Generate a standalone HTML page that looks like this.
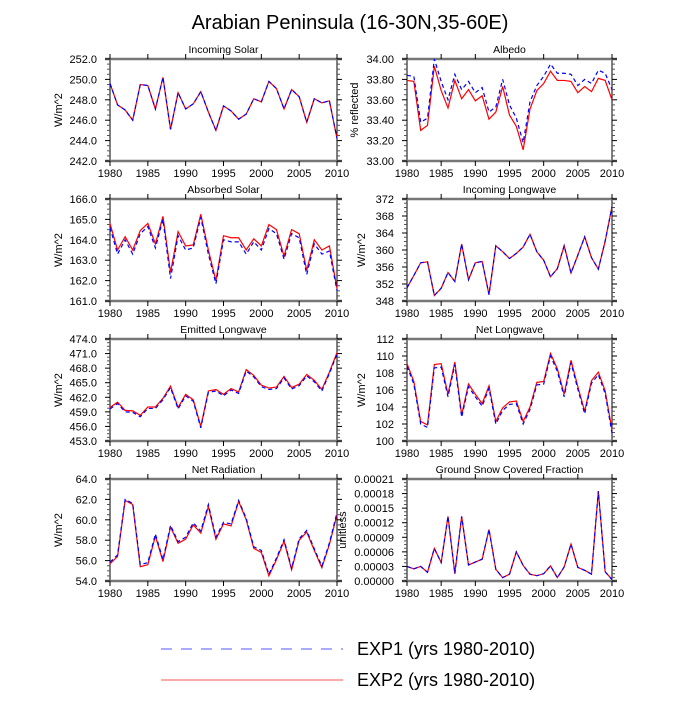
<!DOCTYPE html>
<html><head><meta charset="utf-8"><style>
body{margin:0;background:#fff}
svg text{font-family:"Liberation Sans",sans-serif;fill:#000}
</style></head><body>
<svg id="c" width="700" height="700" xmlns="http://www.w3.org/2000/svg">
<text x="350" y="29" font-size="20" text-anchor="middle">Arabian Peninsula (16-30N,35-60E)</text>
<g>
<line x1="161" y1="649" x2="343" y2="649" stroke="#7777ff" stroke-width="1.2" stroke-dasharray="11,9"/>
<text x="357" y="655" font-size="18">EXP1 (yrs 1980-2010)</text>
<line x1="161" y1="680" x2="343" y2="680" stroke="#ff7777" stroke-width="1.2"/>
<text x="357" y="686" font-size="18">EXP2 (yrs 1980-2010)</text>
</g>
</svg>
<script>
const years=[1980,1981,1982,1983,1984,1985,1986,1987,1988,1989,1990,1991,1992,1993,1994,1995,1996,1997,1998,1999,2000,2001,2002,2003,2004,2005,2006,2007,2008,2009,2010];
const xTicks=[1980,1985,1990,1995,2000,2005,2010];
const solarRed=[249.6,247.5,247.0,246.0,249.5,249.4,247.1,250.2,245.1,248.7,247.1,247.6,248.8,246.8,245.0,247.4,246.9,246.1,246.6,248.1,247.8,249.8,249.1,247.1,249.0,248.3,245.8,248.1,247.7,247.9,244.2];
const solarBlue=[249.6,247.5,247.0,246.0,249.5,249.4,247.1,250.2,245.1,248.7,247.1,247.6,248.8,246.8,245.0,247.4,246.9,246.1,246.6,248.1,247.8,249.8,249.1,247.1,249.0,248.3,245.8,248.1,247.7,247.9,244.2];
const albedoRed=[33.79,33.78,33.30,33.35,33.93,33.69,33.52,33.79,33.61,33.70,33.59,33.64,33.41,33.48,33.73,33.45,33.34,33.11,33.51,33.69,33.76,33.88,33.79,33.79,33.78,33.67,33.73,33.68,33.81,33.79,33.60];
const albedoBlue=[33.84,33.83,33.38,33.42,34.00,33.78,33.60,33.85,33.70,33.78,33.67,33.72,33.48,33.53,33.80,33.55,33.42,33.18,33.58,33.74,33.83,33.95,33.86,33.86,33.85,33.74,33.80,33.76,33.89,33.86,33.70];
const absRed=[164.8,163.5,164.15,163.5,164.45,164.8,163.8,165.15,162.4,164.4,163.7,163.75,165.25,163.5,162.0,164.2,164.1,164.1,163.5,164.05,163.7,164.75,164.5,163.2,164.5,164.3,162.5,164.0,163.5,163.7,161.6];
const absBlue=[164.6,163.3,164.0,163.3,164.3,164.65,163.6,165.0,162.1,164.2,163.5,163.6,165.1,163.3,161.85,164.0,163.9,163.9,163.3,163.9,163.5,164.55,164.3,163.05,164.3,164.1,162.3,163.8,163.3,163.45,161.5];
const ilwRed=[351.1,354.0,357.0,357.2,349.3,351.0,354.7,352.6,361.4,353.0,357.0,357.3,349.5,361.0,359.6,358.0,359.2,360.7,363.7,359.6,357.6,353.7,355.6,361.0,354.6,358.8,363.1,358.2,355.5,362.1,370.2];
const ilwBlue=[351.1,354.0,357.0,357.2,349.3,351.0,354.7,352.6,361.4,353.0,357.0,357.3,349.5,361.0,359.6,358.0,359.2,360.7,363.7,359.6,357.6,353.7,355.6,361.0,354.6,358.8,363.1,358.2,355.5,362.1,370.2];
const elwRed=[459.9,461.0,459.3,459.2,458.3,460.0,460.0,461.8,464.3,459.9,462.6,461.5,456.0,463.3,463.6,462.6,463.8,463.1,467.7,466.5,464.5,463.9,464.1,466.3,464.0,464.7,466.7,465.5,463.6,467.2,471.2];
const elwBlue=[459.6,460.7,459.0,458.9,458.0,459.7,459.7,461.5,464.0,459.6,462.3,461.2,455.7,463.0,463.3,462.3,463.5,462.8,467.4,466.2,464.2,463.6,463.8,466.0,463.7,464.4,466.4,465.2,463.3,466.9,470.9];
const nlwRed=[109.1,107.0,102.3,101.9,109.0,109.1,105.5,109.3,103.1,106.7,105.5,104.4,106.5,102.3,103.9,104.6,104.7,102.3,104.0,106.9,107.0,110.3,108.5,105.5,109.5,106.4,103.5,107.1,108.1,105.9,101.3];
const nlwBlue=[108.8,106.7,102.0,101.6,108.6,108.7,105.2,109.0,102.8,106.4,105.2,104.1,106.2,102.0,103.6,104.3,104.4,102.0,103.7,106.6,106.7,110.0,108.2,105.2,109.2,106.1,103.2,106.8,107.8,105.6,100.9];
const netRed=[55.7,56.4,61.9,61.5,55.4,55.6,58.4,55.9,59.3,57.7,58.1,59.5,58.7,61.3,58.1,59.6,59.4,61.8,60.0,57.2,56.8,54.5,56.1,57.9,55.1,58.0,58.8,57.0,55.3,57.6,60.5];
const netBlue=[55.85,56.55,62.0,61.6,55.6,55.8,58.6,56.1,59.45,57.85,58.3,59.7,58.9,61.5,58.3,59.75,59.6,61.9,60.15,57.35,57.0,54.65,56.25,58.05,55.25,58.15,58.95,57.15,55.45,57.75,60.7];
const snowRed=[3.0e-5,2.5e-5,3.0e-5,1.8e-5,6.7e-5,3.8e-5,13.3e-5,1.5e-5,13.3e-5,3.3e-5,3.9e-5,4.5e-5,10.6e-5,2.4e-5,0.7e-5,1.4e-5,6.0e-5,3.2e-5,1.4e-5,1.1e-5,1.5e-5,3.1e-5,0.7e-5,2.9e-5,7.6e-5,2.8e-5,2.2e-5,1.4e-5,18.5e-5,1.9e-5,0.3e-5];
const snowBlue=[3.0e-5,2.5e-5,3.0e-5,1.8e-5,6.7e-5,3.8e-5,13.3e-5,1.5e-5,13.3e-5,3.3e-5,3.9e-5,4.5e-5,10.6e-5,2.4e-5,0.7e-5,1.4e-5,6.0e-5,3.2e-5,1.4e-5,1.1e-5,1.5e-5,3.1e-5,0.7e-5,2.9e-5,7.6e-5,2.8e-5,2.2e-5,1.4e-5,18.5e-5,1.9e-5,0.3e-5];

const panels=[
 {name:'incoming-solar',title:'Incoming Solar',ylab:'W/m^2',col:0,row:0,min:242,max:252,step:2,dec:1,red:solarRed,blue:solarBlue,ylx:62},
 {name:'albedo',title:'Albedo',ylab:'% reflected',col:1,row:0,min:33,max:34,step:0.2,dec:2,red:albedoRed,blue:albedoBlue,ylx:358},
 {name:'absorbed-solar',title:'Absorbed Solar',ylab:'W/m^2',col:0,row:1,min:161,max:166,step:1,dec:1,red:absRed,blue:absBlue,ylx:62},
 {name:'incoming-longwave',title:'Incoming Longwave',ylab:'W/m^2',col:1,row:1,min:348,max:372,step:4,dec:0,red:ilwRed,blue:ilwBlue,ylx:365},
 {name:'emitted-longwave',title:'Emitted Longwave',ylab:'W/m^2',col:0,row:2,min:453,max:474,step:3,dec:1,red:elwRed,blue:elwBlue,ylx:62},
 {name:'net-longwave',title:'Net Longwave',ylab:'W/m^2',col:1,row:2,min:100,max:112,step:2,dec:0,red:nlwRed,blue:nlwBlue,ylx:365},
 {name:'net-radiation',title:'Net Radiation',ylab:'W/m^2',col:0,row:3,min:54,max:64,step:2,dec:1,red:netRed,blue:netBlue,ylx:62},
 {name:'ground-snow',title:'Ground Snow Covered Fraction',ylab:'unitless',col:1,row:3,min:0,max:0.00021,step:0.00003,dec:5,red:snowRed,blue:snowBlue,ylx:346}
];
const NS='http://www.w3.org/2000/svg';
const svg=document.getElementById('c');
function mk(tag,attrs,parent){const e=document.createElementNS(NS,tag);for(const k in attrs)e.setAttribute(k,attrs[k]);parent.appendChild(e);return e;}
panels.forEach(p=>{
 const x0=p.col?407:110, x1=p.col?612:337;
 const y0=59+p.row*140, y1=y0+102;
 const xs=v=>x0+(v-1980)/30*(x1-x0);
 const ys=v=>y1-(v-p.min)/(p.max-p.min)*(y1-y0);
 const g=mk('g',{},svg);
 
 
 const t=mk('text',{x:(x0+x1)/2,y:y0-6,'font-size':10.5,'text-anchor':'middle'},g);t.textContent=p.title;
 
 
 const yl=mk('text',{x:p.ylx,y:(y0+y1)/2,'font-size':11,'text-anchor':'middle',transform:'rotate(-90 '+p.ylx+' '+(y0+y1)/2+')'},g);yl.textContent=p.ylab;
 
 
 mk('line',{x1:x0,y1:y0,x2:x0,y2:y1,stroke:'#000','stroke-width':1},g);
 mk('line',{x1:x1,y1:y0,x2:x1,y2:y1,stroke:'#000','stroke-width':1},g);
 mk('line',{x1:x0-5,y1:y0,x2:x1+5,y2:y0,stroke:'#777','stroke-width':2.5},g);
 mk('line',{x1:x0-5,y1:y1,x2:x1+5,y2:y1,stroke:'#777','stroke-width':2.5},g);
 const n=Math.round((p.max-p.min)/p.step);
 for(let i=0;i<=n;i++){
  const v=p.min+i*p.step, y=ys(v);
  mk('line',{x1:x0-5,y1:y,x2:x0,y2:y,stroke:'#000'},g);
  mk('line',{x1:x1,y1:y,x2:x1+5,y2:y,stroke:'#000'},g);
  const lb=mk('text',{x:x0-13,y:y+4,'font-size':11,'text-anchor':'end'},g);lb.textContent=v.toFixed(p.dec);
  
  
  if(i<n)for(let j=1;j<4;j++){const ym=ys(v+j*p.step/4);
   mk('line',{x1:x0-3,y1:ym,x2:x0,y2:ym,stroke:'#555'},g);
   mk('line',{x1:x1,y1:ym,x2:x1+3,y2:ym,stroke:'#555'},g);}
 }
 xTicks.forEach(yr=>{const x=xs(yr);
  mk('line',{x1:x,y1:y0-5,x2:x,y2:y0,stroke:'#000'},g);
  mk('line',{x1:x,y1:y1,x2:x,y2:y1+5,stroke:'#000'},g);
  const lb=mk('text',{x:x,y:y1+16,'font-size':11,'text-anchor':'middle'},g);lb.textContent=yr;
  
  
 });
 const pr=mk('polyline',{points:years.map((yr,i)=>xs(yr)+','+ys(p.red[i])).join(' '),fill:'none',stroke:'#ff0000','stroke-width':1.2},g);
 
 
 const pb=mk('polyline',{points:years.map((yr,i)=>xs(yr)+','+ys(p.blue[i])).join(' '),fill:'none',stroke:'#0000ff','stroke-width':1.2,'stroke-dasharray':'4,3'},g);
 
 
});
</script>
</body></html>
